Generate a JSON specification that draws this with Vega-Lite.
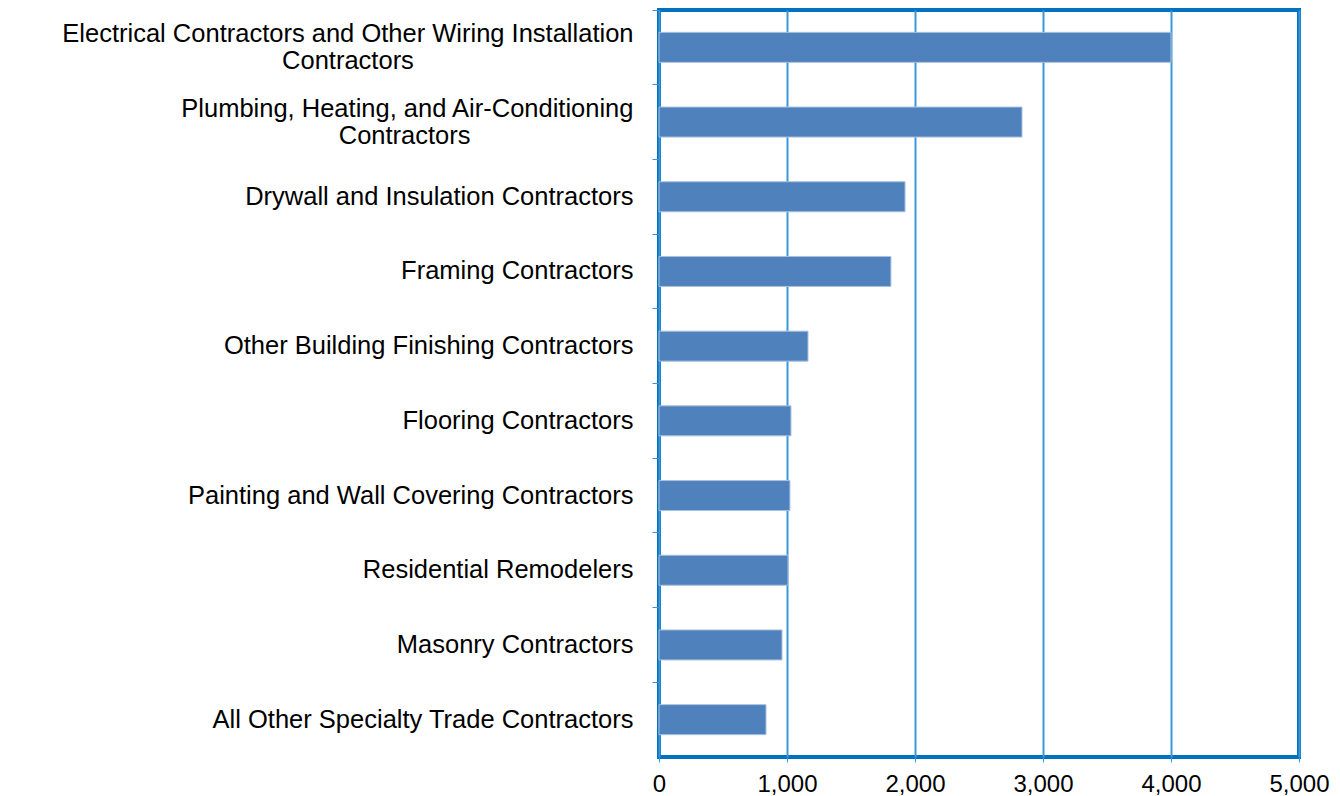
{
  "$schema": "https://vega.github.io/schema/vega-lite/v6.json",
  "autosize": {"type": "none"},
  "padding": {"left": 659, "top": 10, "right": 41, "bottom": 39},
  "width": 640,
  "height": 747,
  "background": "white",
  "config": {
    "view": {"stroke": "#0070C0", "strokeWidth": 4},
    "font": "Liberation Sans"
  },
  "data": {
    "values": [
      {"industry": "Electrical Contractors and Other Wiring Installation Contractors", "value": 4000},
      {"industry": "Plumbing, Heating, and Air-Conditioning Contractors", "value": 2836},
      {"industry": "Drywall and Insulation Contractors", "value": 1922},
      {"industry": "Framing Contractors", "value": 1812},
      {"industry": "Other Building Finishing Contractors", "value": 1164},
      {"industry": "Flooring Contractors", "value": 1031},
      {"industry": "Painting and Wall Covering Contractors", "value": 1023},
      {"industry": "Residential Remodelers", "value": 1008},
      {"industry": "Masonry Contractors", "value": 961},
      {"industry": "All Other Specialty Trade Contractors", "value": 836}
    ]
  },
  "mark": {"type": "bar", "color": "#4F81BD", "size": 30, "stroke": "#a9c0e0", "strokeWidth": 1},
  "encoding": {
    "y": {
      "field": "industry",
      "type": "nominal",
      "sort": null,
      "title": null,
      "scale": {"paddingInner": 0, "paddingOuter": 0},
      "axis": {
        "domain": false,
        "bandPosition": 0,
        "ticks": true,
        "tickColor": "#4a8ad0",
        "tickSize": 7,
        "tickWidth": 1,
        "labelPadding": 19,
        "labelFont": "Liberation Sans",
        "labelFontSize": 25.5,
        "labelColor": "#000000",
        "labelLimit": 700,
        "labelLineHeight": 27,
        "labelOffset": {"condition": {"test": "datum.value == 'Electrical Contractors and Other Wiring Installation Contractors' || datum.value == 'Plumbing, Heating, and Air-Conditioning Contractors'", "value": -13.5}, "value": 0},
        "labelExpr": "datum.label == 'Electrical Contractors and Other Wiring Installation Contractors' ? ['Electrical Contractors and Other Wiring Installation', pad('Contractors', 42, '\u00a0') + '\u200b'] : datum.label == 'Plumbing, Heating, and Air-Conditioning Contractors' ? ['Plumbing, Heating, and Air-Conditioning', pad('Contractors', 34, '\u00a0') + '\u200b'] : datum.label"
      }
    },
    "x": {
      "field": "value",
      "type": "quantitative",
      "title": null,
      "scale": {"domain": [0, 5000], "nice": false},
      "axis": {
        "values": [0, 1000, 2000, 3000, 4000, 5000],
        "format": ",d",
        "domain": false,
        "grid": true,
        "gridColor": "#3A98DA",
        "gridWidth": 2,
        "ticks": true,
        "tickColor": "#3A98DA",
        "tickSize": 5,
        "labelPadding": 10,
        "labelFont": "Liberation Sans",
        "labelFontSize": 24,
        "labelColor": "#000000",
        "labelFlush": false
      }
    }
  }
}
